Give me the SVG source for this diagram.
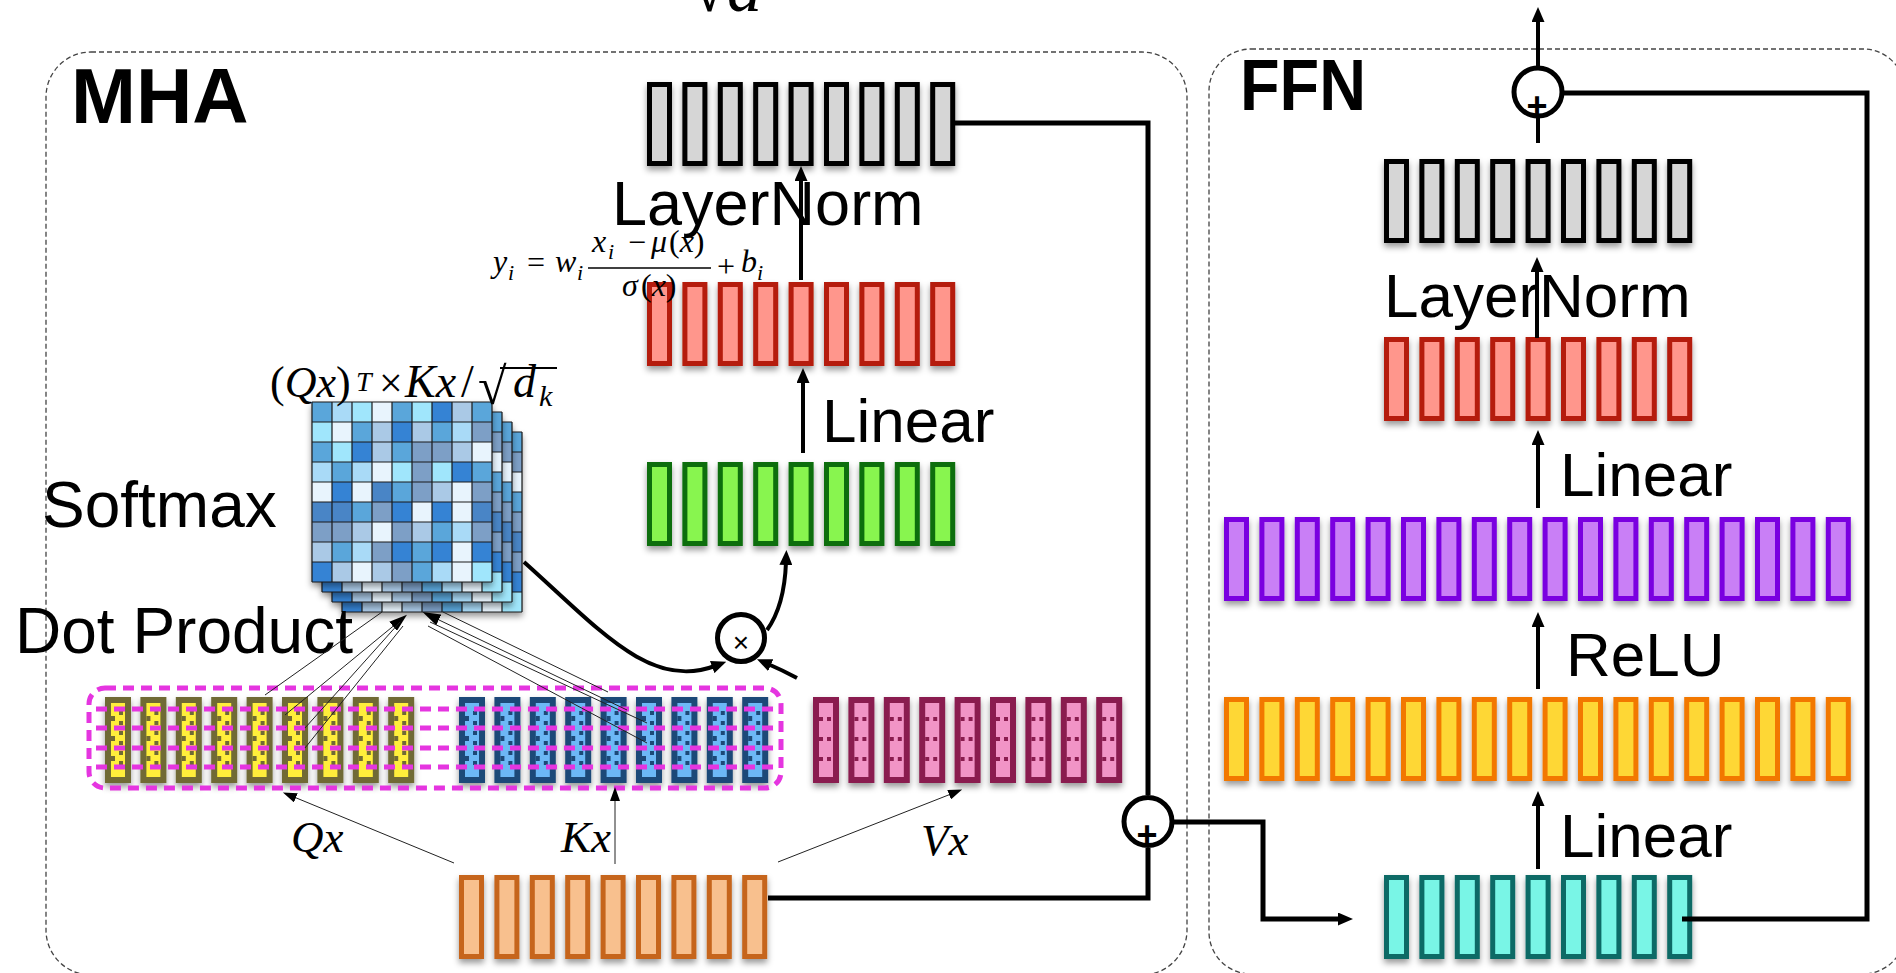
<svg xmlns="http://www.w3.org/2000/svg" width="1896" height="973" viewBox="0 0 1896 973">
<defs>
<style>
text{font-family:"Liberation Sans",Arial,sans-serif;fill:#000}
.lbl{font-size:62px}
.lbl2{font-size:64px}
.big{font-size:78px;font-weight:bold}
.m{font-family:"Liberation Serif","Times New Roman",serif;font-style:italic}
.mu{font-family:"Liberation Serif","Times New Roman",serif;font-style:normal}
.box{fill:none;stroke:#444;stroke-width:1.3;stroke-dasharray:5 3}
.gray{fill:#d6d6d6;stroke:#000}
.red{fill:#ff968c;stroke:#b51b0b}
.green{fill:#88f54f;stroke:#0a6e0a}
.q{fill:#ffee3a;stroke:#6f6b35;color:#6f6b35}
.k{fill:#6cb8f6;stroke:#1f4a78;color:#1f4a78}
.v{fill:#f194c6;stroke:#8a1f50;color:#8a1f50}
.inp{fill:#f8c08e;stroke:#c6651c}
.pur{fill:#c97ff6;stroke:#7a00e0}
.yel{fill:#fed735;stroke:#f27800}
.teal{fill:#79f5e6;stroke:#0b6b66}
.thick{fill:none;stroke:#000;stroke-width:5}
.arr{fill:none;stroke:#000;stroke-width:4}
.thin{fill:none;stroke:#222;stroke-width:1}
.circ{fill:#fff;stroke:#000;stroke-width:5}
.mag{fill:none;stroke:#e535e0;stroke-width:5;stroke-dasharray:11 7}
</style>
<filter id="sh" x="-20%" y="-20%" width="140%" height="150%"><feDropShadow dx="0" dy="4" stdDeviation="3" flood-color="#000" flood-opacity="0.4"/></filter>
<marker id="ah" viewBox="0 0 15 13" refX="3" refY="6.5" markerWidth="15" markerHeight="13" markerUnits="userSpaceOnUse" orient="auto"><path d="M0,0 L15,6.5 L0,13 z" fill="#000"/></marker>
<marker id="at" viewBox="0 0 14 10" refX="2" refY="5" markerWidth="14" markerHeight="10" markerUnits="userSpaceOnUse" orient="auto"><path d="M0,0 L14,5 L0,10 z" fill="#000"/></marker>
<marker id="ad" viewBox="0 0 18 12" refX="2" refY="6" markerWidth="18" markerHeight="12" markerUnits="userSpaceOnUse" orient="auto"><path d="M0,0 L18,6 L0,12 z" fill="#000"/></marker>
<rect id="b" x="2.5" y="2.5" width="20" height="79" stroke-width="5"/>
<g id="nb"><rect x="3" y="3" width="20" height="80" stroke-width="6"/><path fill="currentColor" stroke="none" d="M6,19h4v5h-4z M6,39h4v5h-4z M6,59h4v5h-4z M14,14h4v4h-4z M14,24h4v4h-4z M14,34h4v4h-4z M14,44h4v4h-4z M14,54h4v4h-4z M14,64h4v4h-4z"/></g>
<g id="vb"><rect x="3" y="3" width="20" height="80" stroke-width="6"/><path fill="currentColor" stroke="none" d="M6,20h4v4h-4z M14,20h4v4h-4z M6,40h4v4h-4z M14,40h4v4h-4z M6,60h4v4h-4z M14,60h4v4h-4z"/></g>
<g id="grid">
<rect x="0" y="0" width="20" height="20" fill="#5aa6da"/><rect x="20" y="0" width="20" height="20" fill="#a9daf7"/><rect x="40" y="0" width="20" height="20" fill="#a0e6fc"/><rect x="60" y="0" width="20" height="20" fill="#e8f4fd"/><rect x="80" y="0" width="20" height="20" fill="#5aa6da"/><rect x="100" y="0" width="20" height="20" fill="#a0e6fc"/><rect x="120" y="0" width="20" height="20" fill="#3583d4"/><rect x="140" y="0" width="20" height="20" fill="#aac9e6"/><rect x="160" y="0" width="20" height="20" fill="#5aa6da"/>
<rect x="0" y="20" width="20" height="20" fill="#a0e6fc"/><rect x="20" y="20" width="20" height="20" fill="#e8f4fd"/><rect x="40" y="20" width="20" height="20" fill="#5aa6da"/><rect x="60" y="20" width="20" height="20" fill="#aac9e6"/><rect x="80" y="20" width="20" height="20" fill="#3583d4"/><rect x="100" y="20" width="20" height="20" fill="#aac9e6"/><rect x="120" y="20" width="20" height="20" fill="#5aa6da"/><rect x="140" y="20" width="20" height="20" fill="#a9daf7"/><rect x="160" y="20" width="20" height="20" fill="#7d9fc6"/>
<rect x="0" y="40" width="20" height="20" fill="#5aa6da"/><rect x="20" y="40" width="20" height="20" fill="#a0e6fc"/><rect x="40" y="40" width="20" height="20" fill="#3583d4"/><rect x="60" y="40" width="20" height="20" fill="#aac9e6"/><rect x="80" y="40" width="20" height="20" fill="#5aa6da"/><rect x="100" y="40" width="20" height="20" fill="#7d9fc6"/><rect x="120" y="40" width="20" height="20" fill="#7d9fc6"/><rect x="140" y="40" width="20" height="20" fill="#aac9e6"/><rect x="160" y="40" width="20" height="20" fill="#e8f4fd"/>
<rect x="0" y="60" width="20" height="20" fill="#a9daf7"/><rect x="20" y="60" width="20" height="20" fill="#5aa6da"/><rect x="40" y="60" width="20" height="20" fill="#a9daf7"/><rect x="60" y="60" width="20" height="20" fill="#e8f4fd"/><rect x="80" y="60" width="20" height="20" fill="#a0e6fc"/><rect x="100" y="60" width="20" height="20" fill="#7d9fc6"/><rect x="120" y="60" width="20" height="20" fill="#a0e6fc"/><rect x="140" y="60" width="20" height="20" fill="#3583d4"/><rect x="160" y="60" width="20" height="20" fill="#5aa6da"/>
<rect x="0" y="80" width="20" height="20" fill="#e8f4fd"/><rect x="20" y="80" width="20" height="20" fill="#3583d4"/><rect x="40" y="80" width="20" height="20" fill="#e8f4fd"/><rect x="60" y="80" width="20" height="20" fill="#4a85c6"/><rect x="80" y="80" width="20" height="20" fill="#5aa6da"/><rect x="100" y="80" width="20" height="20" fill="#7d9fc6"/><rect x="120" y="80" width="20" height="20" fill="#aac9e6"/><rect x="140" y="80" width="20" height="20" fill="#e8f4fd"/><rect x="160" y="80" width="20" height="20" fill="#7d9fc6"/>
<rect x="0" y="100" width="20" height="20" fill="#4a85c6"/><rect x="20" y="100" width="20" height="20" fill="#4a85c6"/><rect x="40" y="100" width="20" height="20" fill="#5aa6da"/><rect x="60" y="100" width="20" height="20" fill="#7d9fc6"/><rect x="80" y="100" width="20" height="20" fill="#3583d4"/><rect x="100" y="100" width="20" height="20" fill="#e8f4fd"/><rect x="120" y="100" width="20" height="20" fill="#3583d4"/><rect x="140" y="100" width="20" height="20" fill="#e8f4fd"/><rect x="160" y="100" width="20" height="20" fill="#4a85c6"/>
<rect x="0" y="120" width="20" height="20" fill="#7d9fc6"/><rect x="20" y="120" width="20" height="20" fill="#7d9fc6"/><rect x="40" y="120" width="20" height="20" fill="#aac9e6"/><rect x="60" y="120" width="20" height="20" fill="#e8f4fd"/><rect x="80" y="120" width="20" height="20" fill="#7d9fc6"/><rect x="100" y="120" width="20" height="20" fill="#aac9e6"/><rect x="120" y="120" width="20" height="20" fill="#5aa6da"/><rect x="140" y="120" width="20" height="20" fill="#a9daf7"/><rect x="160" y="120" width="20" height="20" fill="#7d9fc6"/>
<rect x="0" y="140" width="20" height="20" fill="#aac9e6"/><rect x="20" y="140" width="20" height="20" fill="#5aa6da"/><rect x="40" y="140" width="20" height="20" fill="#a9daf7"/><rect x="60" y="140" width="20" height="20" fill="#7d9fc6"/><rect x="80" y="140" width="20" height="20" fill="#3583d4"/><rect x="100" y="140" width="20" height="20" fill="#5aa6da"/><rect x="120" y="140" width="20" height="20" fill="#3583d4"/><rect x="140" y="140" width="20" height="20" fill="#e8f4fd"/><rect x="160" y="140" width="20" height="20" fill="#3583d4"/>
<rect x="0" y="160" width="20" height="20" fill="#3583d4"/><rect x="20" y="160" width="20" height="20" fill="#aac9e6"/><rect x="40" y="160" width="20" height="20" fill="#e8f4fd"/><rect x="60" y="160" width="20" height="20" fill="#aac9e6"/><rect x="80" y="160" width="20" height="20" fill="#7d9fc6"/><rect x="100" y="160" width="20" height="20" fill="#5aa6da"/><rect x="120" y="160" width="20" height="20" fill="#a9daf7"/><rect x="140" y="160" width="20" height="20" fill="#e8f4fd"/><rect x="160" y="160" width="20" height="20" fill="#a0e6fc"/>
<path fill="none" stroke="#1a1a1a" stroke-width="1.2" d="M0,0V180M20,0V180M40,0V180M60,0V180M80,0V180M100,0V180M120,0V180M140,0V180M160,0V180M180,0V180M0,0H180M0,20H180M0,40H180M0,60H180M0,80H180M0,100H180M0,120H180M0,140H180M0,160H180M0,180H180"/>
</g>
</defs>

<g id="mha-box"><rect class="box" x="46" y="52" width="1141" height="923" rx="45"/><text class="big" x="71" y="123">MHA</text></g>
<g id="ffn-box"><rect class="box" x="1209" y="49" width="696" height="925" rx="42"/><text class="big" x="1240" y="110" style="font-size:72px" textLength="126" lengthAdjust="spacingAndGlyphs">FFN</text></g>

<g id="top-formula"><text class="mu" x="690" y="11" font-size="70">√</text><text class="m" x="727" y="11" font-size="70">d</text></g>

<g id="mha-out" class="gray" filter="url(#sh)">
<use href="#b" x="647" y="82"/><use href="#b" x="682.4" y="82"/><use href="#b" x="717.8" y="82"/><use href="#b" x="753.2" y="82"/><use href="#b" x="788.6" y="82"/><use href="#b" x="824" y="82"/><use href="#b" x="859.4" y="82"/><use href="#b" x="894.8" y="82"/><use href="#b" x="930.2" y="82"/>
</g>
<g id="mha-lin" class="red" filter="url(#sh)">
<use href="#b" x="647" y="282"/><use href="#b" x="682.4" y="282"/><use href="#b" x="717.8" y="282"/><use href="#b" x="753.2" y="282"/><use href="#b" x="788.6" y="282"/><use href="#b" x="824" y="282"/><use href="#b" x="859.4" y="282"/><use href="#b" x="894.8" y="282"/><use href="#b" x="930.2" y="282"/>
</g>
<g id="mha-att" class="green" filter="url(#sh)">
<use href="#b" x="647" y="462"/><use href="#b" x="682.4" y="462"/><use href="#b" x="717.8" y="462"/><use href="#b" x="753.2" y="462"/><use href="#b" x="788.6" y="462"/><use href="#b" x="824" y="462"/><use href="#b" x="859.4" y="462"/><use href="#b" x="894.8" y="462"/><use href="#b" x="930.2" y="462"/>
</g>

<g id="attention">
<use href="#grid" x="342" y="432" filter="url(#sh)"/>
<use href="#grid" x="332" y="422" filter="url(#sh)"/>
<use href="#grid" x="322" y="412" filter="url(#sh)"/>
<use href="#grid" x="312" y="402" filter="url(#sh)"/>
</g>

<g id="qx" class="q" filter="url(#sh)">
<use href="#nb" x="105" y="697"/><use href="#nb" x="140.4" y="697"/><use href="#nb" x="175.8" y="697"/><use href="#nb" x="211.2" y="697"/><use href="#nb" x="246.6" y="697"/><use href="#nb" x="282" y="697"/><use href="#nb" x="317.4" y="697"/><use href="#nb" x="352.8" y="697"/><use href="#nb" x="388.2" y="697"/>
</g>
<g id="kx" class="k" filter="url(#sh)">
<use href="#nb" x="459" y="697"/><use href="#nb" x="494.4" y="697"/><use href="#nb" x="529.8" y="697"/><use href="#nb" x="565.2" y="697"/><use href="#nb" x="600.6" y="697"/><use href="#nb" x="636" y="697"/><use href="#nb" x="671.4" y="697"/><use href="#nb" x="706.8" y="697"/><use href="#nb" x="742.2" y="697"/>
</g>
<g id="heads"><rect class="mag" x="89" y="688" width="692" height="100" rx="16"/><path class="mag" d="M96,709H778M96,728H778M96,748H778M96,767H778"/></g>
<g id="vx" class="v" filter="url(#sh)">
<use href="#vb" x="813" y="697"/><use href="#vb" x="848.4" y="697"/><use href="#vb" x="883.8" y="697"/><use href="#vb" x="919.2" y="697"/><use href="#vb" x="954.6" y="697"/><use href="#vb" x="990" y="697"/><use href="#vb" x="1025.4" y="697"/><use href="#vb" x="1060.8" y="697"/><use href="#vb" x="1096.2" y="697"/>
</g>
<g id="input" class="inp" filter="url(#sh)">
<use href="#b" x="459" y="875"/><use href="#b" x="494.4" y="875"/><use href="#b" x="529.8" y="875"/><use href="#b" x="565.2" y="875"/><use href="#b" x="600.6" y="875"/><use href="#b" x="636" y="875"/><use href="#b" x="671.4" y="875"/><use href="#b" x="706.8" y="875"/><use href="#b" x="742.2" y="875"/>
</g>

<g id="ffn-out" class="gray" filter="url(#sh)">
<use href="#b" x="1384" y="159"/><use href="#b" x="1419.4" y="159"/><use href="#b" x="1454.8" y="159"/><use href="#b" x="1490.2" y="159"/><use href="#b" x="1525.6" y="159"/><use href="#b" x="1561" y="159"/><use href="#b" x="1596.4" y="159"/><use href="#b" x="1631.8" y="159"/><use href="#b" x="1667.2" y="159"/>
</g>
<g id="ffn-lin2" class="red" filter="url(#sh)">
<use href="#b" x="1384" y="337"/><use href="#b" x="1419.4" y="337"/><use href="#b" x="1454.8" y="337"/><use href="#b" x="1490.2" y="337"/><use href="#b" x="1525.6" y="337"/><use href="#b" x="1561" y="337"/><use href="#b" x="1596.4" y="337"/><use href="#b" x="1631.8" y="337"/><use href="#b" x="1667.2" y="337"/>
</g>
<g id="ffn-relu" class="pur" filter="url(#sh)">
<use href="#b" x="1224" y="517"/><use href="#b" x="1259.4" y="517"/><use href="#b" x="1294.8" y="517"/><use href="#b" x="1330.2" y="517"/><use href="#b" x="1365.6" y="517"/><use href="#b" x="1401" y="517"/><use href="#b" x="1436.4" y="517"/><use href="#b" x="1471.8" y="517"/><use href="#b" x="1507.2" y="517"/><use href="#b" x="1542.6" y="517"/><use href="#b" x="1578" y="517"/><use href="#b" x="1613.4" y="517"/><use href="#b" x="1648.8" y="517"/><use href="#b" x="1684.2" y="517"/><use href="#b" x="1719.6" y="517"/><use href="#b" x="1755" y="517"/><use href="#b" x="1790.4" y="517"/><use href="#b" x="1825.8" y="517"/>
</g>
<g id="ffn-lin1" class="yel" filter="url(#sh)">
<use href="#b" x="1224" y="697"/><use href="#b" x="1259.4" y="697"/><use href="#b" x="1294.8" y="697"/><use href="#b" x="1330.2" y="697"/><use href="#b" x="1365.6" y="697"/><use href="#b" x="1401" y="697"/><use href="#b" x="1436.4" y="697"/><use href="#b" x="1471.8" y="697"/><use href="#b" x="1507.2" y="697"/><use href="#b" x="1542.6" y="697"/><use href="#b" x="1578" y="697"/><use href="#b" x="1613.4" y="697"/><use href="#b" x="1648.8" y="697"/><use href="#b" x="1684.2" y="697"/><use href="#b" x="1719.6" y="697"/><use href="#b" x="1755" y="697"/><use href="#b" x="1790.4" y="697"/><use href="#b" x="1825.8" y="697"/>
</g>
<g id="ffn-in" class="teal" filter="url(#sh)">
<use href="#b" x="1384" y="875"/><use href="#b" x="1419.4" y="875"/><use href="#b" x="1454.8" y="875"/><use href="#b" x="1490.2" y="875"/><use href="#b" x="1525.6" y="875"/><use href="#b" x="1561" y="875"/><use href="#b" x="1596.4" y="875"/><use href="#b" x="1631.8" y="875"/><use href="#b" x="1667.2" y="875"/>
</g>

<g id="labels">
<text class="lbl" x="612" y="225" style="font-size:63px">LayerNorm</text>
<text class="lbl" x="822" y="442">Linear</text>
<text class="lbl2" x="42" y="527">Softmax</text>
<text class="lbl2" x="15" y="653">Dot Product</text>
<text class="lbl" x="1384" y="317">LayerNorm</text>
<text class="lbl" x="1560" y="496">Linear</text>
<text class="lbl" x="1566" y="676">ReLU</text>
<text class="lbl" x="1560" y="857">Linear</text>
<text class="m" x="291" y="852" font-size="45">Qx</text>
<text class="m" x="561" y="852" font-size="45">Kx</text>
<text class="m" x="921" y="855" font-size="45">Vx</text>
</g>

<g id="score-formula">
<text class="mu" x="270" y="397" font-size="44">(<tspan class="m">Qx</tspan>)</text>
<text class="m" x="356" y="391" font-size="28">T</text>
<text class="mu" x="379" y="397" font-size="42">×</text>
<text class="m" x="405" y="397" font-size="46">Kx</text>
<text class="mu" x="461" y="397" font-size="46">/</text>
<text class="mu" x="478" y="404" font-size="52">√</text>
<path d="M500,368H557" stroke="#000" stroke-width="2"/>
<text class="m" x="513" y="397" font-size="46">d</text>
<text class="m" x="539" y="406" font-size="30">k</text>
</g>

<g id="ln-formula">
<text class="m" x="493" y="272" font-size="32">y</text>
<text class="m" x="508" y="280" font-size="22">i</text>
<text class="mu" x="527" y="273" font-size="32">=</text>
<text class="m" x="555" y="272" font-size="32">w</text>
<text class="m" x="577" y="280" font-size="22">i</text>
<text class="m" x="592" y="252" font-size="32">x</text>
<text class="m" x="608" y="259" font-size="22">i</text>
<text class="mu" x="628" y="253" font-size="32">−</text>
<text class="m" x="651" y="252" font-size="32">μ</text>
<text class="mu" x="669" y="252" font-size="32">(<tspan class="m">x</tspan>)</text>
<path d="M588,268H711" stroke="#000" stroke-width="1.6"/>
<text class="m" x="622" y="296" font-size="32">σ</text>
<text class="mu" x="641" y="296" font-size="32">(<tspan class="m">x</tspan>)</text>
<text class="mu" x="717" y="277" font-size="32">+</text>
<text class="m" x="741" y="272" font-size="32">b</text>
<text class="m" x="757" y="280" font-size="22">i</text>
</g>

<g id="connectors">
<path class="thick" d="M955,123H1148V795"/>
<path class="thick" d="M768,898H1148V848"/>
<path class="thick" d="M1174,822H1263V919H1341" marker-end="url(#ah)"/>
<path class="thick" d="M1682,919H1867V93H1564"/>
<path class="arr" d="M1538,143V118"/>
<path class="arr" d="M1538,66V19" marker-end="url(#ah)"/>
<path class="arr" d="M801,280V178" marker-end="url(#ah)"/>
<path class="arr" d="M803,453V380" marker-end="url(#ah)"/>
<path class="arr" d="M1537,338V269" marker-end="url(#ah)"/>
<path class="arr" d="M1538,508V442" marker-end="url(#ah)"/>
<path class="arr" d="M1538,689V624" marker-end="url(#ah)"/>
<path class="arr" d="M1538,869V803" marker-end="url(#ah)"/>
<path class="arr" d="M524,562C600,630 650,690 715,666" marker-end="url(#ah)"/>
<path class="arr" d="M767,630C780,612 785,590 786,562" marker-end="url(#ah)"/>
<path class="arr" d="M797,678Q782,670 768,664" marker-end="url(#ah)"/>
<path class="thin" d="M454,863L294,797" marker-end="url(#at)"/>
<path class="thin" d="M615,864V799" marker-end="url(#at)"/>
<path class="thin" d="M778,862L951,794" marker-end="url(#at)"/>
<path class="thin" d="M265,695L382,612"/>
<path class="thin" d="M285,715L394.6,625" marker-end="url(#ad)"/>
<path class="thin" d="M305,728L400,622"/>
<path class="thin" d="M305,748L403,626"/>
<path class="thin" d="M608,692L443,612"/>
<path class="thin" d="M627,710L437,619" marker-end="url(#ad)"/>
<path class="thin" d="M647,723L430,622"/>
<path class="thin" d="M647,743L428,626"/>
</g>

<g id="mul"><circle class="circ" cx="741" cy="638" r="23.5"/><text x="741" y="652" font-size="28" text-anchor="middle">×</text></g>
<g id="add-mha"><circle class="circ" cx="1148" cy="821.5" r="24"/><text x="1147" y="847" font-size="36" font-weight="bold" text-anchor="middle">+</text></g>
<g id="add-ffn"><circle class="circ" cx="1538" cy="92" r="24"/><text x="1537" y="118" font-size="36" font-weight="bold" text-anchor="middle">+</text></g>
</svg>
